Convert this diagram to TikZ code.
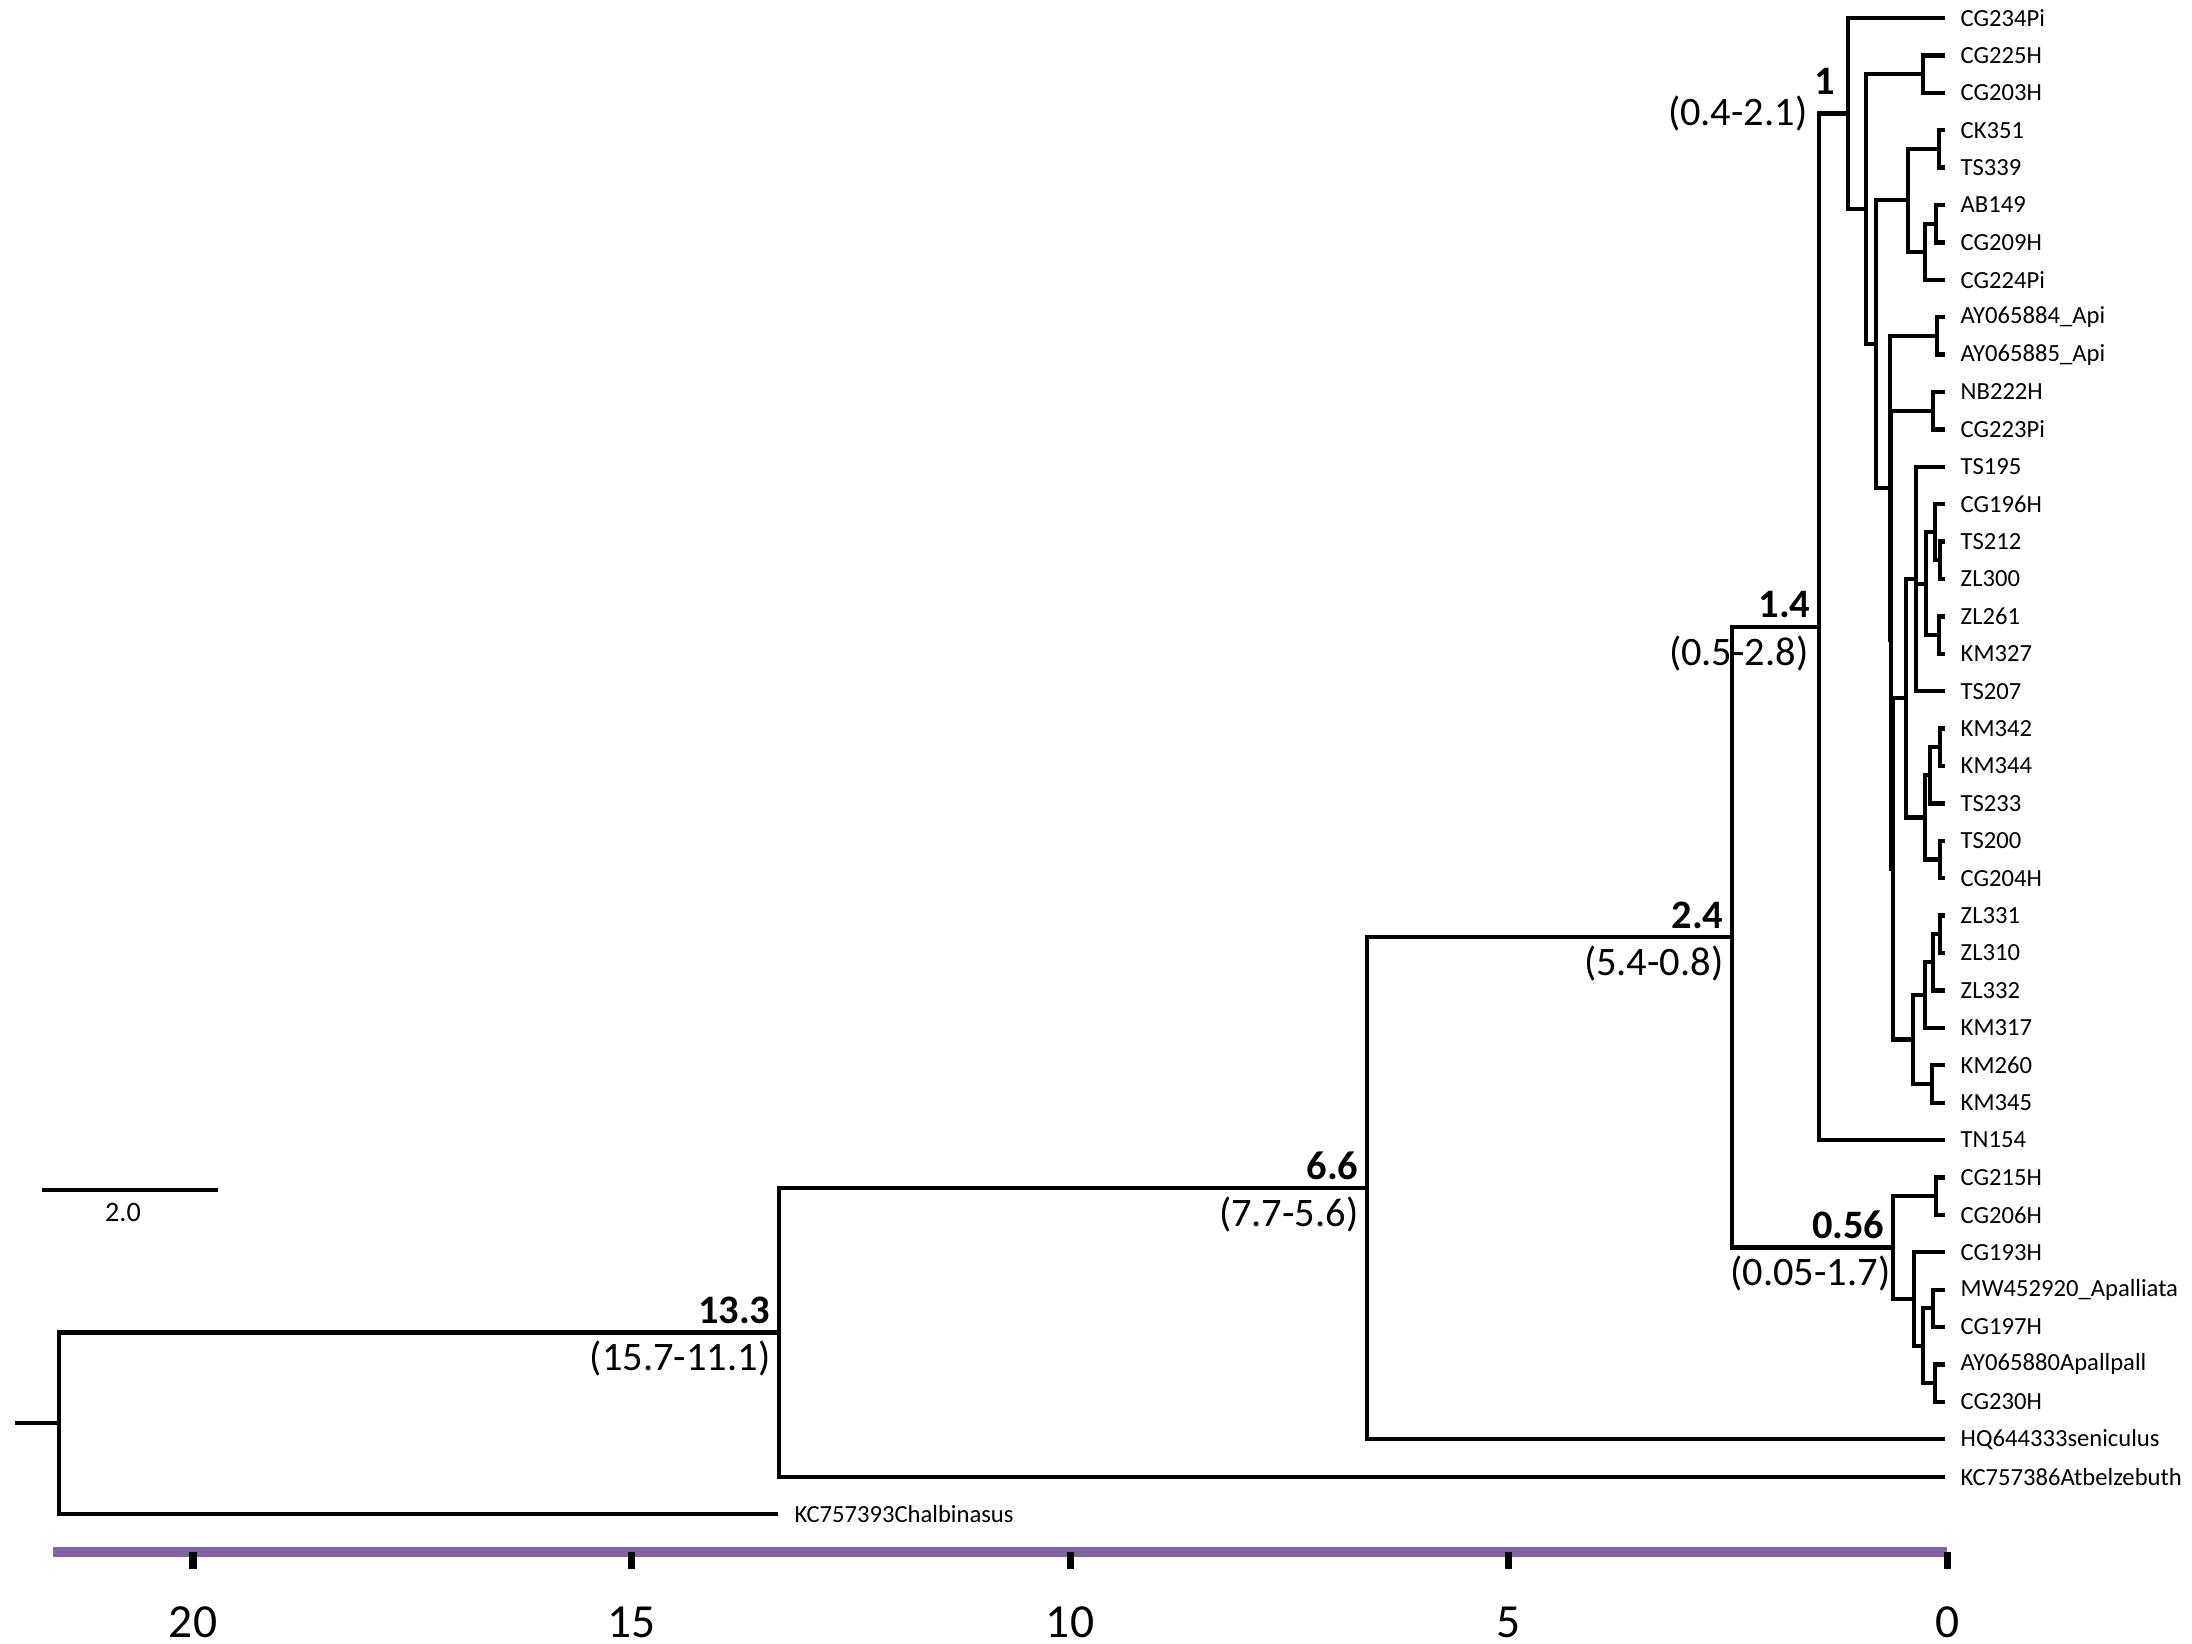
\documentclass[tikz,border=0pt]{standalone}
\usepackage{fontspec}
\setmainfont{Carlito}
\usetikzlibrary{calc}
\definecolor{axispurple}{RGB}{128,100,162}
\tikzset{
  branch/.style={line width=1.2pt, line cap=rect},
  leaflabel/.style={anchor=west, inner sep=0pt, font=\fontsize{7}{8}\selectfont},
  agelabel/.style={inner sep=0pt, font=\fontsize{11.5}{13}\selectfont\bfseries},
  hpdlabel/.style={inner sep=0pt, font=\fontsize{11.5}{13}\selectfont},
}
% internal node: name, x, first child, last child
\newcommand{\mkclade}[4]{%
  \path let \p1=($(#3)!.5!(#4)$) in coordinate (#1) at (#2,\y1);
  \draw[branch] (#1 |- #3) -- (#1 |- #4);
  \draw[branch] (#1 |- #3) -- (#3);
  \draw[branch] (#1 |- #4) -- (#4);}
\begin{document}
\begin{tikzpicture}[x=0.01cm, y=-0.01cm]
  \useasboundingbox (0,0) rectangle (2192,1643);

  % tips
  \foreach \lab [count=\i from 0] in {CG234Pi,CG225H,CG203H,CK351,TS339,AB149,CG209H,CG224Pi,
      AY065884\_Api,AY065885\_Api,NB222H,CG223Pi,TS195,CG196H,TS212,ZL300,ZL261,KM327,TS207,
      KM342,KM344,TS233,TS200,CG204H,ZL331,ZL310,ZL332,KM317,KM260,KM345,TN154,CG215H,CG206H,
      CG193H,MW452920\_Apalliata,CG197H,AY065880Apallpall,CG230H,HQ644333seniculus,KC757386Atbelzebuth}
  {
    \coordinate (l\i) at (1943,{18+37.4*\i});
    \node[leaflabel] (t\i) at (1960,{18+37.4*\i}) {\lab};
  }
  \coordinate (l40) at (776,{18+37.4*40});
  \node[leaflabel] (t40) at (794,{18+37.4*40}) {KC757393Chalbinasus};

  % ingroup clade
  \mkclade{pA}{1923}{l1}{l2}
  \mkclade{pB}{1939}{l3}{l4}
  \mkclade{pC}{1936}{l5}{l6}
  \mkclade{nE}{1925}{pC}{l7}
  \mkclade{nC}{1908}{pB}{nE}
  \mkclade{pD}{1937}{l8}{l9}
  \mkclade{pE}{1933}{l10}{l11}
  \mkclade{pF}{1940}{l14}{l15}
  \mkclade{nG}{1935}{l13}{pF}
  \mkclade{pH}{1939}{l16}{l17}
  \mkclade{nIthree}{1926}{nG}{pH}
  \mkclade{nI}{1916}{l12}{l18}
  \draw[branch] (nI |- nIthree) -- (nIthree);
  \mkclade{pK}{1940}{l19}{l20}
  \mkclade{nKthree}{1930}{pK}{l21}
  \mkclade{pKtwo}{1940}{l22}{l23}
  \mkclade{nKtwo}{1925}{nKthree}{pKtwo}
  \mkclade{nM}{1906}{nI}{nKtwo}
  \mkclade{pL}{1940}{l24}{l25}
  \mkclade{nLthree}{1933}{pL}{l26}
  \mkclade{nLtwo}{1925}{nLthree}{l27}
  \mkclade{pLtwo}{1932}{l28}{l29}
  \mkclade{nL}{1913}{nLtwo}{pLtwo}
  \mkclade{nDthree}{1893}{nM}{nL}
  \mkclade{nDtwo}{1891}{pE}{nDthree}
  \mkclade{nD}{1890}{pD}{nDtwo}
  \mkclade{nB}{1876}{nC}{nD}
  \mkclade{nA}{1866}{pA}{nB}
  \mkclade{n1}{1848}{l0}{nA}
  \mkclade{n14}{1819}{n1}{l30}
  % palliata clade
  \mkclade{pS}{1936}{l31}{l32}
  \mkclade{pT}{1933}{l34}{l35}
  \mkclade{pU}{1935}{l36}{l37}
  \mkclade{nNtwo}{1923}{pT}{pU}
  \mkclade{nN}{1914}{l33}{nNtwo}
  \mkclade{n056}{1893}{pS}{nN}
  % backbone
  \mkclade{n24}{1732}{n14}{n056}
  \mkclade{n66}{1367}{n24}{l38}
  \mkclade{n133}{779}{n66}{l39}
  \mkclade{root}{59}{n133}{l40}
  \coordinate (stub) at (17,0 |- root);
  \draw[branch] (stub) -- (root);

  % node ages and intervals
  \node[agelabel, anchor=south east] (a1) at ([shift={(-12,-18)}]n1) {1};
  \node[hpdlabel, anchor=north east] (h1) at ([shift={(-40,-18)}]n1) {(0.4-2.1)};
  \node[agelabel, anchor=south east] (a14) at ([shift={(-8,-8)}]n14) {1.4};
  \node[hpdlabel, anchor=north east] (h14) at ([shift={(-10,8)}]n14) {(0.5-2.8)};
  \node[agelabel, anchor=south east] (a24) at ([shift={(-8,-8)}]n24) {2.4};
  \node[hpdlabel, anchor=north east] (h24) at ([shift={(-8,8)}]n24) {(5.4-0.8)};
  \node[agelabel, anchor=south east] (a66) at ([shift={(-8,-8)}]n66) {6.6};
  \node[hpdlabel, anchor=north east] (h66) at ([shift={(-8,8)}]n66) {(7.7-5.6)};
  \node[agelabel, anchor=south east] (a133) at ([shift={(-8,-8)}]n133) {13.3};
  \node[hpdlabel, anchor=north east] (h133) at ([shift={(-8,8)}]n133) {(15.7-11.1)};
  \node[agelabel, anchor=south east] (a056) at ([shift={(-8,-8)}]n056) {0.56};
  \node[hpdlabel, anchor=north east] (h056) at ([shift={(-2,8)}]n056) {(0.05-1.7)};

  % scale bar
  \coordinate (sbl) at (42,1190);
  \coordinate (sbr) at (218,1190);
  \draw[line width=1pt] (sbl) -- (sbr);
  \node[leaflabel, anchor=center, font=\fontsize{8}{9}\selectfont] (sb) at (123,1212) {2.0};

  % time axis
  \coordinate (axl) at (53,1552);
  \coordinate (axr) at (1947,1552);
  \draw[axispurple, line width=3pt] (axl) -- (axr);
  \foreach \t in {0,5,10,15,20}{
    \coordinate (tk\t) at ({1947-87.7*\t},1552);
    \draw[line width=2pt] (tk\t) -- ++(0,17);
    \node[inner sep=0pt, font=\fontsize{13.5}{15}\selectfont] (tl\t) at ({1947-87.7*\t},1622) {\t};
  }
\end{tikzpicture}
\end{document}
